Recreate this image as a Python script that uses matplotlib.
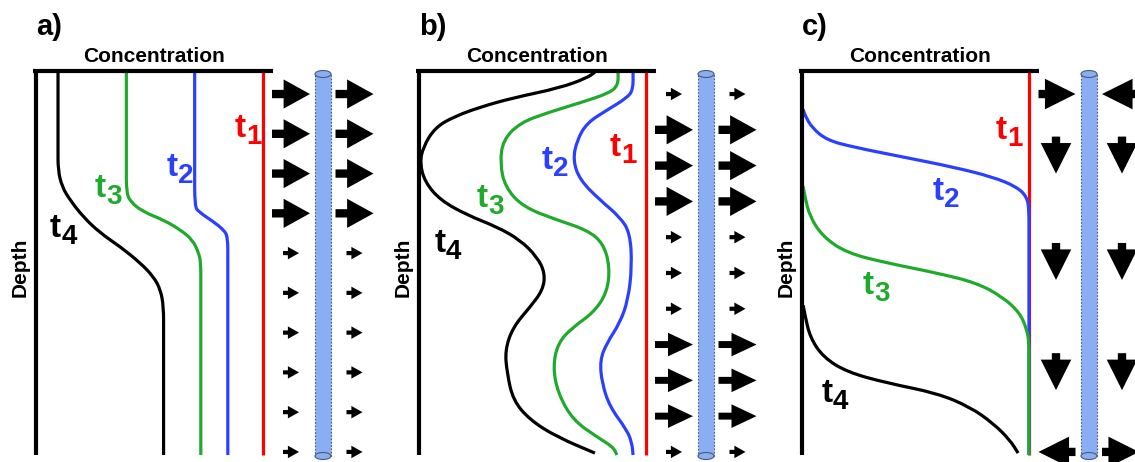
import matplotlib.pyplot as plt
import numpy as np
from matplotlib.path import Path
from matplotlib.patches import PathPatch, Rectangle, Ellipse


plt.rcParams["font.family"] = ["Liberation Sans", "DejaVu Sans"]
plt.rcParams["font.weight"] = "bold"

DPI = 100
FIG_W, FIG_H = 1135, 462

RED = "#ff0000"
BLUE = "#2b40ff"
GREEN = "#1faa2c"
BLACK = "#000000"
PIPE_FACE = "#8aaef3"

# ---- concentration profiles (0 = depth axis, 1 = t1 concentration), depth 0..1 ----
# panel a: homogeneous flow in the top, weak flow below
a_t1_conc = [1.0, 1.0]
a_t1_depth = [0.0, 1.0]
a_t2_conc = [0.699, 0.699, 0.699, 0.717, 0.783, 0.827, 0.845, 0.845, 0.845]
a_t2_depth = [0.0, 0.25, 0.352, 0.367, 0.393, 0.414, 0.432, 0.5, 1.0]
a_t3_conc = [0.398, 0.398, 0.398, 0.416, 0.473, 0.562, 0.637, 0.690, 0.717, 0.726, 0.726, 0.726]
a_t3_depth = [0.0, 0.25, 0.315, 0.341, 0.367, 0.388, 0.414, 0.440, 0.474, 0.5, 0.56, 1.0]
a_t4_conc = [0.097, 0.097, 0.097, 0.115, 0.150, 0.208, 0.283, 0.372, 0.460, 0.518,
             0.549, 0.562, 0.562, 0.562]
a_t4_depth = [0.0, 0.2, 0.258, 0.302, 0.336, 0.380, 0.422, 0.458, 0.500, 0.536,
              0.570, 0.615, 0.68, 1.0]

# panel b: layered flow
b_t1_conc = [1.0, 1.0]
b_t1_depth = [0.0, 1.0]
b_t2_conc = [0.943, 0.943, 0.916, 0.828, 0.740, 0.696, 0.678, 0.709, 0.797, 0.885,
             0.930, 0.938, 0.921, 0.885, 0.828, 0.797, 0.806, 0.841, 0.916, 0.938, 0.943]
b_t2_depth = [0.003, 0.049, 0.070, 0.102, 0.135, 0.180, 0.232, 0.284, 0.336, 0.380,
              0.422, 0.510, 0.596, 0.656, 0.708, 0.753, 0.813, 0.875, 0.935, 0.969, 1.0]
b_t3_conc = [0.877, 0.877, 0.841, 0.709, 0.564, 0.445, 0.370, 0.357, 0.379, 0.458,
             0.608, 0.740, 0.811, 0.841, 0.828, 0.767, 0.678, 0.612, 0.590, 0.612,
             0.678, 0.784, 0.855, 0.872]
b_t3_depth = [0.003, 0.036, 0.057, 0.083, 0.109, 0.135, 0.180, 0.240, 0.302, 0.354,
              0.388, 0.414, 0.448, 0.510, 0.578, 0.630, 0.667, 0.708, 0.771, 0.839,
              0.909, 0.953, 0.979, 1.0]
b_t4_conc = [0.775, 0.740, 0.621, 0.414, 0.269, 0.150, 0.070, 0.018, 0.004, 0.026,
             0.093, 0.211, 0.344, 0.445, 0.520, 0.555, 0.546, 0.489, 0.414, 0.379,
             0.388, 0.414, 0.489, 0.608, 0.775]
b_t4_depth = [0.003, 0.018, 0.044, 0.070, 0.094, 0.120, 0.148, 0.198, 0.240, 0.289,
              0.336, 0.375, 0.406, 0.440, 0.484, 0.526, 0.570, 0.615, 0.667, 0.727,
              0.786, 0.857, 0.909, 0.953, 0.995]

# panel c: vertical flow towards the well
c_t1_conc = [1.0, 1.0]
c_t1_depth = [0.0, 1.0]
c_t2_conc = [0.005, 0.013, 0.044, 0.110, 0.225, 0.445, 0.665, 0.841, 0.947, 0.991,
             1.0, 1.0, 1.0]
c_t2_depth = [0.100, 0.115, 0.148, 0.180, 0.198, 0.224, 0.250, 0.276, 0.302, 0.328,
              0.362, 0.42, 1.0]
c_t3_conc = [0.005, 0.013, 0.035, 0.093, 0.198, 0.374, 0.595, 0.771, 0.885, 0.960,
             0.991, 1.0, 1.0, 1.0]
c_t3_depth = [0.300, 0.328, 0.380, 0.432, 0.474, 0.500, 0.526, 0.552, 0.589, 0.630,
              0.674, 0.708, 0.76, 1.0]
c_t4_conc = [0.005, 0.013, 0.035, 0.093, 0.198, 0.374, 0.595, 0.740, 0.841, 0.916, 0.952]
c_t4_depth = [0.610, 0.635, 0.693, 0.745, 0.784, 0.8125, 0.839, 0.875, 0.917, 0.961, 0.995]

# ---- flow towards the well: 1 = weak, 2 = moderate, 3 = strong ----
a_flow = [3, 3, 3, 3, 1, 1, 1, 1, 1, 1]
b_flow = [1, 3, 3, 3, 1, 1, 1, 2, 2, 2, 1]
c_flow_dir = ["in", "down", "down", "down", "out"]
c_flow_depth = [0.06, 0.219, 0.496, 0.783, 0.992]

panel_letters = ["a)", "b)", "c)"]
time_labels = ["1", "2", "3", "4"]

# label anchors (left of "t", baseline) for t1..t4 in each panel
label_pos = {
    "a": [(0.877, 0.172), (0.577, 0.273), (0.260, 0.328), (0.062, 0.432)],
    "b": [(0.841, 0.221), (0.542, 0.255), (0.256, 0.354), (0.070, 0.471)],
    "c": [(0.855, 0.177), (0.577, 0.336), (0.269, 0.581), (0.088, 0.862)],
}

# ---- layout (pixels) ----
AXIS_X = [36, 419, 802]
PX_C = 227.0   # pixels per unit concentration
PX_Z = 384.0   # pixels per unit depth
TOP_PX = 71
ARROW_L = 28 / PX_C + 1
ARROW_R = 91.5 / PX_C + 1
PIPE_X = 60 / PX_C + 1
PIPE_W = 16 / PX_C

# length, head width, head length, tail width (pixels)
ARROW_SIZES = {
    3: (38, 21, 19, 6),
    2: (38, 17, 18, 5),
    1: (16, 9, 8, 3),
    "c": (37, 22, 22, 6),
}


def smooth_path(conc, depth):
    pts = np.column_stack([conc, depth])
    if len(pts) < 3:
        return Path(pts)
    verts = [pts[0], (pts[0] + pts[1]) / 2]
    codes = [Path.MOVETO, Path.LINETO]
    for i in range(1, len(pts) - 1):
        verts += [pts[i], (pts[i] + pts[i + 1]) / 2]
        codes += [Path.CURVE3, Path.CURVE3]
    verts.append(pts[-1])
    codes.append(Path.LINETO)
    return Path(verts, codes)


def draw_profile(ax, conc, depth, color):
    ax.add_patch(PathPatch(smooth_path(conc, depth), fill=False, edgecolor=color,
                           lw=2.3, capstyle="butt", joinstyle="round"))


def flow_arrow(ax, xc, zc, ux, uz, size):
    length, hw, hl, tw = ARROW_SIZES[size]
    ms = 10
    unit = ms  # arrow style sizes end up in pixels at this scale
    style = (f"simple,head_width={hw / unit:.3f},head_length={hl / unit:.3f},"
             f"tail_width={tw / unit:.3f}")
    half = length / 2
    tail = (xc - ux * half / PX_C, zc - uz * half / PX_Z)
    tip = (xc + ux * half / PX_C, zc + uz * half / PX_Z)
    ax.annotate("", xy=tip, xytext=tail, annotation_clip=False,
                arrowprops=dict(arrowstyle=style, mutation_scale=ms, color="black",
                                shrinkA=0, shrinkB=0, lw=0))


def draw_pipe(ax):
    z_top, z_bot = 3 / PX_Z, 385 / PX_Z
    ax.add_patch(Rectangle((PIPE_X - PIPE_W / 2, z_top), PIPE_W, z_bot - z_top,
                           facecolor=PIPE_FACE, edgecolor="#4a5a78", lw=0.8,
                           linestyle=(0, (1.5, 1.5))))
    for z in (z_top, z_bot):
        ax.add_patch(Ellipse((PIPE_X, z), PIPE_W, 7 / PX_Z, facecolor=PIPE_FACE,
                             edgecolor="#4a5a78", lw=0.8))


def time_label(ax, x, z, digit, color):
    ax.text(x, z, "t", fontsize=24, color=color, ha="left", va="baseline")
    ax.annotate(digit, xy=(x, z), xytext=(8.0, -5), textcoords="offset points",
                fontsize=20, color=color, ha="left", va="baseline")


def setup_panel(fig, x0):
    left = x0 - 36
    width = 372
    ax = fig.add_axes([left / FIG_W, 0, width / FIG_W, 1])
    ax.set_xlim(-36 / PX_C, 336 / PX_C)
    ax.set_ylim((FIG_H - TOP_PX) / PX_Z, -TOP_PX / PX_Z)
    ax.axis("off")
    return ax


def main():
    fig = plt.figure(figsize=(FIG_W / DPI, FIG_H / DPI), dpi=DPI)

    profiles = {
        "a": [(a_t1_conc, a_t1_depth), (a_t2_conc, a_t2_depth),
              (a_t3_conc, a_t3_depth), (a_t4_conc, a_t4_depth)],
        "b": [(b_t1_conc, b_t1_depth), (b_t2_conc, b_t2_depth),
              (b_t3_conc, b_t3_depth), (b_t4_conc, b_t4_depth)],
        "c": [(c_t1_conc, c_t1_depth), (c_t2_conc, c_t2_depth),
              (c_t3_conc, c_t3_depth), (c_t4_conc, c_t4_depth)],
    }
    colors = [RED, BLUE, GREEN, BLACK]

    for key, x0, letter in zip("abc", AXIS_X, panel_letters):
        ax = setup_panel(fig, x0)

        # frame: depth axis and concentration axis
        ax.plot([0, 0], [0, 1], color="black", lw=3, solid_capstyle="butt")
        ax.plot([-0.012, 1.045], [0, 0], color="black", lw=3, solid_capstyle="butt")
        ax.text(0.52, -0.023, "Concentration", fontsize=15, ha="center", va="baseline")
        ax.text(-0.072, 0.51, "Depth", fontsize=15, rotation=90, ha="center", va="center")
        ax.text(0.0, -0.094, letter, fontsize=21, ha="left", va="baseline")

        for (conc, depth), color in zip(profiles[key], colors):
            draw_profile(ax, conc, depth, color)
        for (x, z), digit, color in zip(label_pos[key], time_labels, colors):
            time_label(ax, x, z, digit, color)

        if key in ("a", "b"):
            flow = a_flow if key == "a" else b_flow
            depths = np.linspace(0.06, 0.992, len(flow))
            for z, f in zip(depths, flow):
                flow_arrow(ax, ARROW_L, z, 1, 0, f)
                flow_arrow(ax, ARROW_R, z, 1, 0, f)
        else:
            for z, d in zip(c_flow_depth, c_flow_dir):
                if d == "in":
                    flow_arrow(ax, ARROW_L, z, 1, 0, "c")
                    flow_arrow(ax, ARROW_R, z, -1, 0, "c")
                elif d == "out":
                    flow_arrow(ax, ARROW_L, z, -1, 0, "c")
                    flow_arrow(ax, ARROW_R, z, 1, 0, "c")
                else:
                    flow_arrow(ax, ARROW_L - 1 / PX_C, z, 0, 1, "c")
                    flow_arrow(ax, ARROW_R + 1.5 / PX_C, z, 0, 1, "c")

        draw_pipe(ax)

    fig.savefig("out.png", dpi=DPI)
    plt.close(fig)


if __name__ == "__main__":
    main()
